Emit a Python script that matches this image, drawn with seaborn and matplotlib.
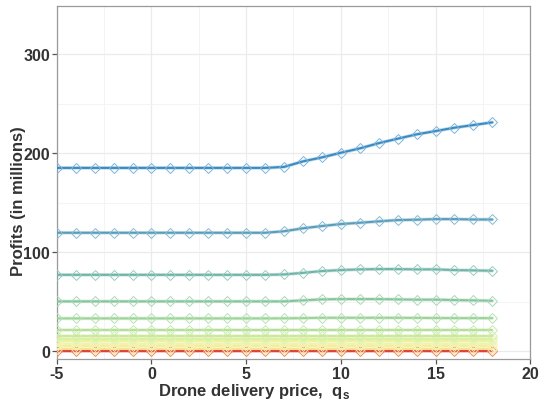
import matplotlib
matplotlib.use("Agg")
import matplotlib.pyplot as plt
import seaborn as sns
import numpy as np
import pandas as pd

prices = list(range(-5, 19))

s1_tail = [186, 191.6, 195.6, 200.3, 204.7, 210, 214.5, 218.9, 222.2, 225.6, 228.3, 231]
s2_tail = [121, 124, 126.3, 128.3, 129.6, 131, 132.3, 132.7, 133.3, 133.3, 132.9, 132.9]
s3_tail = [77.4, 79, 80.8, 81.8, 82.5, 82.8, 82.8, 82.5, 82.5, 81.8, 81.5, 81.1]
s4_tail = [50.2, 51.2, 52.2, 52.5, 52.5, 52.5, 52.2, 51.9, 51.9, 51.5, 51.2, 50.8]
s5_tail = [33.1, 33.3, 33.6, 33.6, 33.6, 33.6, 33.6, 33.5, 33.4, 33.3, 33.3, 33.3]

s1 = [185] * 12 + s1_tail
s2 = [119.5] * 12 + s2_tail
s3 = [77] * 12 + s3_tail
s4 = [50.2] * 12 + s4_tail
s5 = [33] * 12 + s5_tail
s6 = [21.5] * 24
s7 = [15.5] * 24
s8 = [12.5] * 24
s9 = [10] * 24
s10 = [7.5] * 24
s11 = [5] * 24
s12 = [2.5] * 24
s13 = [0.3] * 24

series = [s1, s2, s3, s4, s5, s6, s7, s8, s9, s10, s11, s12, s13]
line_colors = ["#3a8bc2", "#5a9cbb", "#6fb4a6", "#86c59c", "#9cd398", "#b4df96",
               "#c9e89a", "#dbef9f", "#e8f3a4", "#f1f4a7", "#f4ee9f", "#f5e292", "#e0413a"]
marker_colors = ["#7db4db", "#86bcd4", "#98cdc2", "#a9d9b6", "#b7e2b2", "#c8eab0",
                 "#d6efb0", "#e3f3b4", "#eef6b8", "#f4f6bb", "#f6f1b4", "#f6e6a6", "#f08a5c"]

sns.set_theme(style="whitegrid")
plt.rcParams['font.family'] = ['Liberation Sans', 'DejaVu Sans']
plt.rcParams['axes.unicode_minus'] = False
plt.rcParams['mathtext.fontset'] = 'custom'
plt.rcParams['mathtext.rm'] = 'Liberation Sans'
plt.rcParams['mathtext.bf'] = 'Liberation Sans:bold'

fig = plt.figure(figsize=(5.41, 4.02), dpi=100)
ax = fig.add_axes([0.105, 0.1045, 0.875, 0.878])
ax.set_facecolor("white")

for i in range(len(series) - 1, -1, -1):
    df = pd.DataFrame({"price": prices, "profit": series[i]})
    sns.lineplot(data=df, x="price", y="profit", ax=ax, color=line_colors[i],
                 linewidth=2.6, alpha=0.3, zorder=2)
    sns.lineplot(data=df, x="price", y="profit", ax=ax, color=line_colors[i],
                 linewidth=1.5, marker="D", markersize=5.0, markerfacecolor="none",
                 markeredgecolor=marker_colors[i], markeredgewidth=0.7, zorder=3)

ax.set_xlim(-5, 20)
ax.set_ylim(-8, 348.5)
ax.set_xticks([-5, 0, 5, 10, 15, 20])
ax.set_yticks([0, 100, 200, 300])
ax.set_xticks([-2.5, 2.5, 7.5, 12.5, 17.5], minor=True)
ax.set_yticks([50, 150, 250], minor=True)
ax.grid(True, which="major", color="#ebebeb", linewidth=0.9)
ax.grid(True, which="minor", color="#f3f3f3", linewidth=0.6)
for sp in ax.spines.values():
    sp.set_color("#9a9a9a")
    sp.set_linewidth(0.9)
ax.tick_params(axis="both", which="major", length=3.5, width=0.9, color="#555555",
               labelsize=11.5, labelcolor="#333333", pad=1.5, bottom=True, left=True)
ax.tick_params(axis="both", which="minor", length=0)
for lab in ax.get_xticklabels() + ax.get_yticklabels():
    lab.set_fontweight("bold")

ax.set_xlabel(r"Drone delivery price,  q$_\mathbf{s}$", fontsize=12, fontweight="bold",
              color="#333333")
ax.set_ylabel("Profits (in millions)", fontsize=12, fontweight="bold", color="#333333")
ax.xaxis.set_label_coords(0.416, -0.062)
ax.yaxis.set_label_coords(-0.066, 0.45)

fig.savefig("out.png", dpi=100)
